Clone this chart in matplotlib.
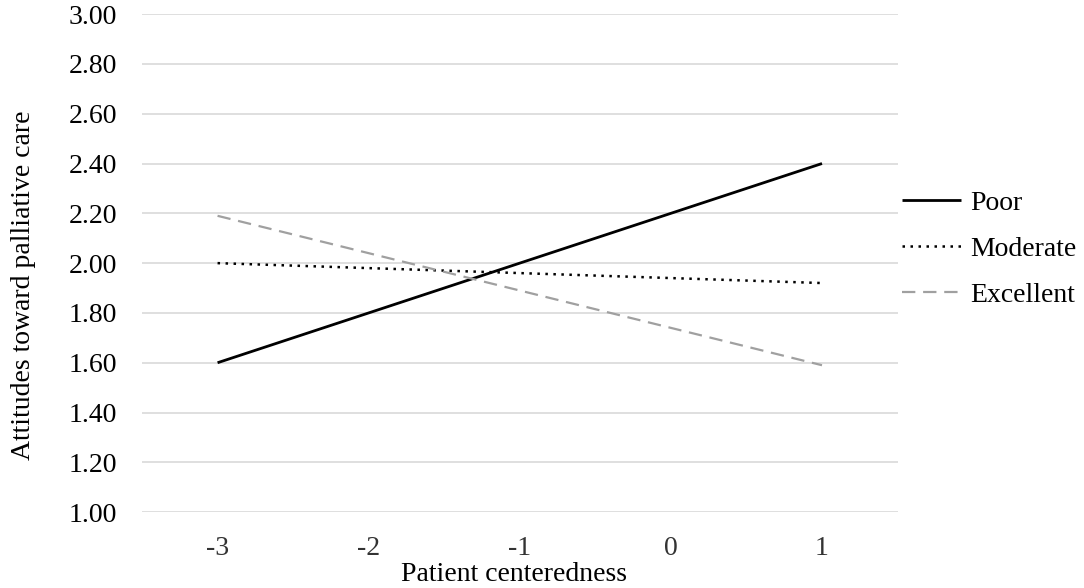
import numpy as np
import matplotlib
matplotlib.use("Agg")
import matplotlib.pyplot as plt

plt.rcParams['font.family'] = ['Liberation Serif', 'DejaVu Serif']

# Data
categories = ["-3", "-2", "-1", "0", "1"]
poor = [1.60, 1.80, 2.00, 2.20, 2.40]
moderate = [2.00, 1.98, 1.96, 1.94, 1.92]
excellent = [2.19, 2.04, 1.89, 1.74, 1.59]
y_ticks = [1.00, 1.20, 1.40, 1.60, 1.80, 2.00, 2.20, 2.40, 2.60, 2.80, 3.00]

FS = 20

fig = plt.figure(figsize=(10.84, 5.88), dpi=100)
ax = fig.add_axes([0.131, 0.129, 0.697, 0.847])

x = np.arange(len(categories))
ax.plot(x, poor, color="black", lw=2.0, ls="-", label="Poor", solid_capstyle="butt")
ax.plot(x, moderate, color="black", lw=1.8, ls=(0, (1, 2.2)), label="Moderate")
ax.plot(x, excellent, color="#a0a0a0", lw=1.6, ls=(0, (6, 3.5)), label="Excellent")

ax.set_xlim(-0.5, len(categories) - 0.5)
ax.set_ylim(1.0, 3.0)
ax.set_xticks(x)
ax.set_xticklabels(categories)
ax.set_yticks(y_ticks)
ax.set_yticklabels([f"{v:.2f}" for v in y_ticks])

ax.grid(axis="y", color="#d9d9d9", lw=1.2)
ax.set_axisbelow(True)
for s in ax.spines.values():
    s.set_visible(False)
ax.tick_params(axis="both", length=0, labelsize=FS)
ax.tick_params(axis="y", pad=18)
ax.tick_params(axis="x", pad=17, labelcolor="#333333")

ax.set_xlabel("Patient centeredness", fontsize=FS)
ax.xaxis.set_label_coords(0.492, -0.1)
ax.set_ylabel("Attitudes toward palliative care", fontsize=FS)
ax.yaxis.set_label_coords(-0.14, 0.456)

ax.legend(loc="center left", bbox_to_anchor=(1.0, 0.528), frameon=False,
          fontsize=FS, handlelength=2.15, handletextpad=0.32, labelspacing=0.75,
          borderaxespad=0.15, borderpad=0.0)

fig.savefig("out.png", dpi=100)
